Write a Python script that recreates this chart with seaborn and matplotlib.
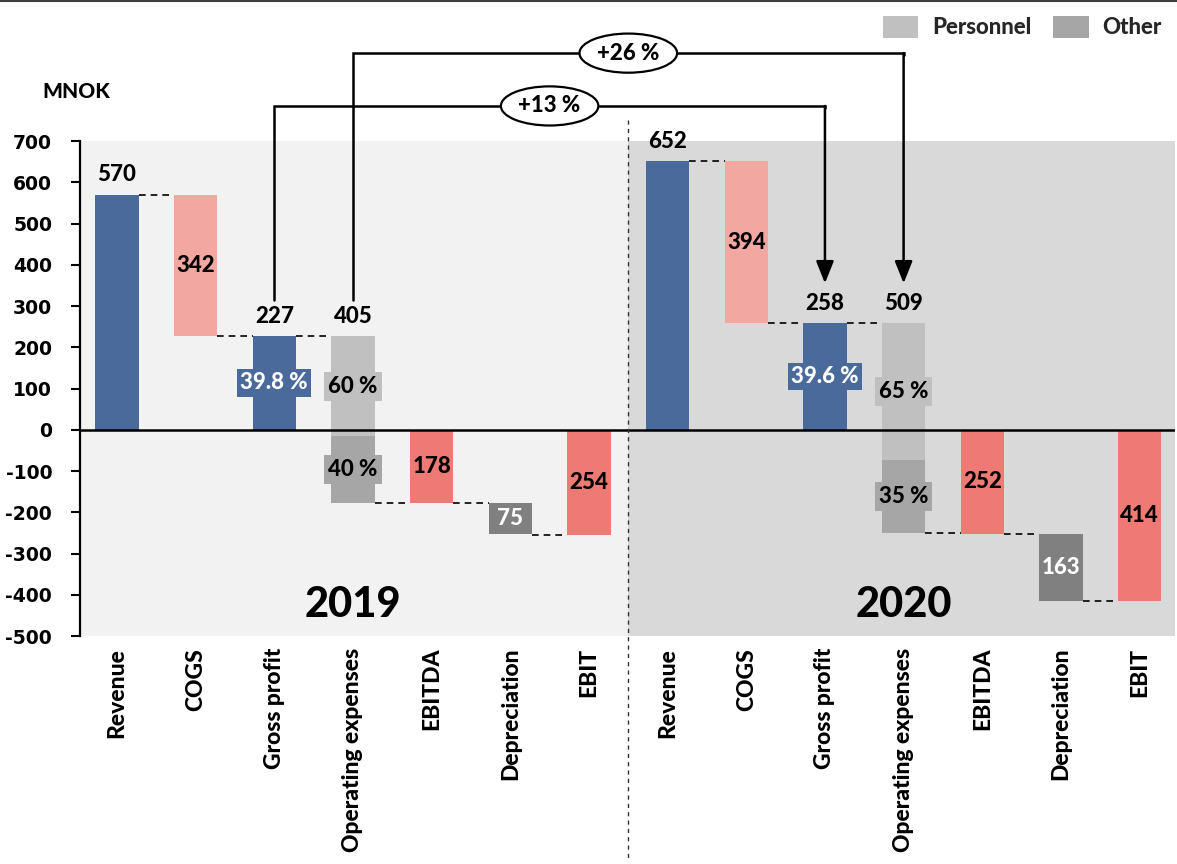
import matplotlib
matplotlib.use("Agg")
import matplotlib.pyplot as plt
import seaborn as sns
import numpy as np
import pandas as pd
from matplotlib.patches import Patch
from matplotlib.lines import Line2D

# ---------------- data ----------------
years = ["2019", "2020"]
categories = ["Revenue", "COGS", "Gross profit", "Operating expenses",
              "EBITDA", "Depreciation", "EBIT"]
revenue = [570, 652]
cogs = [342, 394]
gross_profit = [227, 258]
opex = [405, 509]
personnel_pct = [60, 65]
other_pct = [40, 35]
ebitda = [-178, -252]
depreciation = [75, 163]
ebit = [-254, -414]
gross_margin = ["39.8 %", "39.6 %"]
growth_labels = ["+13 %", "+26 %"]
legend_labels = ["Personnel", "Other"]
yticks = list(range(-500, 701, 100))
unit_label = "MNOK"

# ---------------- style ----------------
C_BLUE = "#4A6A9B"
C_COGS = "#F2A7A0"
C_RED = "#EE7B73"
C_DEP = "#808080"
C_PERS = "#C0C0C0"
C_OTHER = "#A6A6A6"
BG19 = "#F2F2F2"
BG20 = "#D9D9D9"

sns.set_theme(style="white")
plt.rcParams["font.family"] = ["Lato", "DejaVu Sans"]
WT = 900
TXT = dict(family=["Lato", "DejaVu Sans"], fontweight=WT)

fig = plt.figure(figsize=(11.77, 8.64), dpi=100)
ax = fig.add_axes([80 / 1177, 1 - 636 / 864, (1175 - 80) / 1177, 495 / 864])

# ---------------- build bar table ----------------
keys, heights, bottoms, colors = [], [], [], []
o_keys, o_heights, o_bottoms = [], [], []
for i, y in enumerate(years):
    gp = gross_profit[i]
    pers = opex[i] * personnel_pct[i] / 100
    oth = opex[i] - pers
    rows = [
        ("Revenue", 0, revenue[i], C_BLUE),
        ("COGS", gp, cogs[i], C_COGS),
        ("Gross profit", 0, gp, C_BLUE),
        ("Operating expenses", gp - pers, pers, C_PERS),
        ("EBITDA", 0, ebitda[i], C_RED),
        ("Depreciation", ebitda[i], -depreciation[i], C_DEP),
        ("EBIT", 0, ebit[i], C_RED),
    ]
    for cat, b, h, c in rows:
        keys.append(f"{y}|{cat}")
        bottoms.append(b)
        heights.append(h)
        colors.append(c)
    o_keys.append(f"{y}|Operating expenses")
    o_heights.append(oth)
    o_bottoms.append(gp - opex[i])

W = 0.55
df_main = pd.DataFrame({"key": keys, "value": heights})
sns.barplot(data=df_main, x="key", y="value", order=keys, color=C_BLUE,
            width=W, bottom=np.array(bottoms), errorbar=None, ax=ax,
            linewidth=0, saturation=1, zorder=2)
for p, c in zip(ax.containers[-1], colors):
    p.set_facecolor(c)

df_oth = pd.DataFrame({"key": o_keys, "value": o_heights})
sns.barplot(data=df_oth, x="key", y="value", order=keys, color=C_OTHER,
            width=W, bottom=np.array(o_bottoms), errorbar=None, ax=ax,
            linewidth=0, saturation=1, zorder=2)

n = len(keys)
ax.set_xlim(-0.47, n - 1 + 0.45)
ax.set_ylim(-500, 700)
ax.set_xlabel("")
ax.set_ylabel("")

# backgrounds
ax.axvspan(-0.47, 6.5, color=BG19, zorder=0, lw=0)
ax.axvspan(6.5, n - 1 + 0.45, color=BG20, zorder=0, lw=0)
ax.axhline(0, color="black", lw=1.8, zorder=3)

# ticks / spines
for s in ["top", "right", "bottom"]:
    ax.spines[s].set_visible(False)
ax.spines["left"].set_color("black")
ax.spines["left"].set_linewidth(1.6)
ax.spines["left"].set_zorder(4)
ax.set_yticks(yticks)
ax.set_yticklabels([str(t) for t in yticks], fontsize=13.5,
                   fontweight="bold", family="DejaVu Sans")
ax.tick_params(axis="y", left=True, length=6.5, width=1.5, color="black",
               pad=13.5, labelcolor="black")
ax.set_xticks(range(n))
ax.set_xticklabels([k.split("|")[1] for k in keys], rotation=90,
                   fontsize=16.5, fontweight=WT, color="black", va="top",
                   ha="center")
ax.tick_params(axis="x", bottom=False, length=0, pad=8.5)

# connectors
for i, y in enumerate(years):
    base = i * 7
    gp = gross_profit[i]
    levels = [revenue[i], gp, gp, gp - opex[i], ebitda[i], ebit[i]]
    for k, lv in enumerate(levels):
        x0 = base + k + W / 2
        x1 = base + k + 1 - W / 2
        ax.plot([x0, x1], [lv, lv], color="black", lw=1.2,
                dashes=(4, 3), zorder=3)

# value labels
def top_label(x, v, txt):
    ax.annotate(txt, (x, v), xytext=(0, 9.5), textcoords="offset points",
                ha="center", va="baseline", fontsize=16, color="black",
                zorder=6, **TXT)

for i, y in enumerate(years):
    base = i * 7
    gp = gross_profit[i]
    pers = opex[i] * personnel_pct[i] / 100
    top_label(base + 0, revenue[i], str(revenue[i]))
    top_label(base + 2, gp, str(gp))
    top_label(base + 3, gp, str(opex[i]))
    ax.text(base + 1, gp + cogs[i] / 2, str(cogs[i]), ha="center",
            va="center", fontsize=16, color="black", zorder=6, **TXT)
    ax.text(base + 2, gp / 2, gross_margin[i], ha="center", va="center",
            fontsize=16, color="white", zorder=6,
            bbox=dict(boxstyle="square,pad=0.15", fc=C_BLUE, ec="none"), **TXT)
    ax.text(base + 3, gp - pers / 2, f"{personnel_pct[i]} %", ha="center",
            va="center", fontsize=16, color="black", zorder=6,
            bbox=dict(boxstyle="square,pad=0.18", fc=C_PERS, ec="none"), **TXT)
    ax.text(base + 3, gp - pers - (opex[i] - pers) / 2, f"{other_pct[i]} %",
            ha="center", va="center", fontsize=16, color="black", zorder=6,
            bbox=dict(boxstyle="square,pad=0.18", fc=C_OTHER, ec="none"), **TXT)
    ax.text(base + 4, ebitda[i] / 2, str(-ebitda[i]), ha="center",
            va="center", fontsize=16, color="black", zorder=6, **TXT)
    ax.text(base + 5, ebitda[i] - depreciation[i] / 2, str(depreciation[i]),
            ha="center", va="center", fontsize=16, color="white", zorder=6,
            **TXT)
    ax.text(base + 6, ebit[i] / 2, str(-ebit[i]), ha="center", va="center",
            fontsize=16, color="black", zorder=6, **TXT)
    ax.text(base + 3, -425, y, ha="center", va="center", fontsize=30,
            color="black", zorder=6, **TXT)

# growth arrows
arrow_specs = [(2, 785, growth_labels[0]), (3, 913, growth_labels[1])]
for xi, level, lab in arrow_specs:
    x_from, x_to = xi, xi + 7
    y_start = gross_profit[0] + 88
    y_tip = gross_profit[1] + 97
    ax.plot([x_from, x_from, x_to, x_to], [y_start, level, level, level - 5],
            color="black", lw=1.8, clip_on=False, zorder=5,
            solid_joinstyle="miter")
    ax.annotate("", xy=(x_to, y_tip), xytext=(x_to, level),
                arrowprops=dict(arrowstyle="-|>,head_length=0.75,head_width=0.3",
                                lw=1.8, color="black", shrinkA=0, shrinkB=0,
                                mutation_scale=18),
                annotation_clip=False, zorder=5)
    ax.text((x_from + x_to) / 2, level, lab, ha="center", va="center",
            fontsize=16, color="black", zorder=7, clip_on=False,
            bbox=dict(boxstyle="ellipse,pad=0.15", fc="white", ec="black",
                      lw=1.6), **TXT)

# year divider
ax.plot([6.5, 6.5], [751, -1043], color="#333333", lw=1.0, dashes=(3, 3),
        clip_on=False, zorder=5)

# unit label
fig.text(42 / 1177, 1 - 92 / 864, unit_label, ha="left", va="center",
         fontsize=15, color="black", **TXT)

# legend
handles = [Patch(facecolor=C_PERS, edgecolor="none"),
           Patch(facecolor=C_OTHER, edgecolor="none")]
fig.legend(handles, legend_labels, loc="upper right",
           bbox_to_anchor=(1.0, 1.0), ncol=2, frameon=False,
           handlelength=1.6, handleheight=1.2, handletextpad=0.6,
           columnspacing=1.0, borderaxespad=0.3,
           prop=dict(family=["Lato", "DejaVu Sans"], weight=WT, size=16))

# top border
fig.add_artist(Line2D([0, 1], [0.999, 0.999], color="#404040", lw=1.5,
                      transform=fig.transFigure))

fig.savefig("out.png", dpi=100)
